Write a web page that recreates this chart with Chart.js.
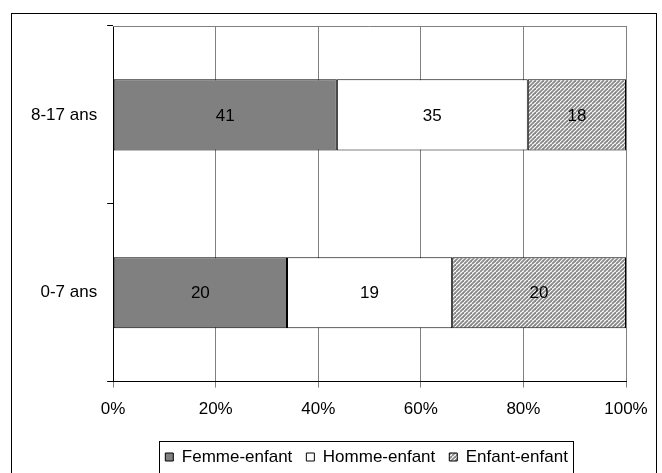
<!DOCTYPE html>
<html>
<head>
<meta charset="utf-8">
<script src="https://cdn.jsdelivr.net/npm/chart.js@4"></script>
<style>
  html, body { margin: 0; padding: 0; background: #fff; overflow: hidden; }
  #wrap { position: relative; width: 662px; height: 473px; }
  #frame { position: absolute; left: 11px; top: 13px; width: 646px; height: 480px; border: 1px solid #000; box-sizing: border-box; }
  canvas { position: absolute; left: 0; top: 0; }
</style>
</head>
<body>
<div id="wrap">
  <div id="frame"></div>
  <canvas id="grafica" width="662" height="473"></canvas>
</div>
<script>
const categories = ['8-17 ans', '0-7 ans'];
const femmeEnfant = [41, 20];
const hommeEnfant = [35, 19];
const enfantEnfant = [18, 20];
const xTicks = [0, 20, 40, 60, 80, 100];

const series = [
  { label: 'Femme-enfant', counts: femmeEnfant },
  { label: 'Homme-enfant', counts: hommeEnfant },
  { label: 'Enfant-enfant', counts: enfantEnfant }
];

// totaux par catégorie pour passer en %
const totals = categories.map((c, i) => series.reduce((s, d) => s + d.counts[i], 0));

function hatch() {
  const c = document.createElement('canvas');
  c.width = 8; c.height = 8;
  const g = c.getContext('2d');
  g.fillStyle = '#ffffff';
  g.fillRect(0, 0, 8, 8);
  g.strokeStyle = '#888888';
  g.lineWidth = 1.8;
  for (let k = -8; k <= 16; k += 4) {
    g.beginPath();
    g.moveTo(k, 8);
    g.lineTo(k + 8, 0);
    g.stroke();
  }
  return g.createPattern(c, 'repeat');
}

const fills = ['#808080', '#ffffff', hatch()];
const FONT = "'Liberation Sans', Arial, sans-serif";
const FS = 17;

const valueLabels = {
  id: 'valueLabels',
  afterDatasetsDraw(chart) {
    const ctx = chart.ctx;
    ctx.save();
    ctx.font = FS + 'px ' + FONT;
    ctx.fillStyle = '#000';
    ctx.textAlign = 'center';
    ctx.textBaseline = 'middle';
    chart.data.datasets.forEach((ds, di) => {
      chart.getDatasetMeta(di).data.forEach((bar, i) => {
        const p = bar.getProps(['x', 'y', 'base'], true);
        ctx.fillText(String(ds.counts[i]), (p.x + p.base) / 2, p.y + 1);
      });
    });
    ctx.restore();
  }
};

// bord gris en haut de la zone de tracé
const topEdge = {
  id: 'topEdge',
  beforeDatasetsDraw(chart) {
    const a = chart.chartArea;
    const ctx = chart.ctx;
    ctx.save();
    ctx.strokeStyle = '#808080';
    ctx.lineWidth = 1;
    ctx.beginPath();
    ctx.moveTo(a.left, Math.round(a.top) + 0.5);
    ctx.lineTo(a.right, Math.round(a.top) + 0.5);
    ctx.stroke();
    ctx.restore();
  }
};

// légende centrée sous la zone de tracé, avec un cadre
const legendBox = {
  id: 'legendBox',
  afterUpdate(chart) {
    const lg = chart.legend;
    const boxes = lg.legendHitBoxes;
    if (!boxes || !boxes.length) return;
    const a = chart.chartArea;
    const l = Math.min(...boxes.map(b => b.left));
    const r = Math.max(...boxes.map(b => b.left + b.width));
    const dx = (a.left + a.right) / 2 - 3 - (l + r) / 2;
    const dy = 457 - (boxes[0].top + boxes[0].height / 2);
    lg.left += dx; lg.right += dx;
    lg.top += dy; lg.bottom += dy;
    boxes.forEach(b => { b.left += dx; b.top += dy; });
  },
  afterDraw(chart) {
    const boxes = chart.legend.legendHitBoxes;
    if (!boxes || !boxes.length) return;
    const left = Math.min(...boxes.map(b => b.left)) - 6;
    const right = Math.max(...boxes.map(b => b.left + b.width)) + 5;
    const top = Math.min(...boxes.map(b => b.top + b.height / 2)) - 16;
    const ctx = chart.ctx;
    ctx.save();
    ctx.strokeStyle = '#000';
    ctx.lineWidth = 1;
    ctx.strokeRect(Math.round(left) + 0.5, Math.round(top) + 0.5, Math.round(right - left), 60);
    ctx.restore();
  }
};

const ctx = document.getElementById('grafica').getContext('2d');
new Chart(ctx, {
  type: 'bar',
  data: {
    labels: categories,
    datasets: series.map((s, k) => ({
      label: s.label,
      counts: s.counts,
      data: s.counts.map((v, i) => v / totals[i] * 100),
      backgroundColor: fills[k],
      borderColor: '#000',
      borderWidth: 1,
      borderSkipped: false,
      categoryPercentage: 0.4,
      barPercentage: 1
    }))
  },
  options: {
    indexAxis: 'y',
    responsive: false,
    animation: false,
    devicePixelRatio: 1,
    layout: { padding: { left: 21, right: 36, top: 26, bottom: 0 } },
    plugins: {
      tooltip: { enabled: false },
      legend: {
        position: 'bottom',
        labels: {
          color: '#000',
          font: { family: FONT, size: FS },
          boxWidth: 8,
          boxHeight: 8,
          padding: 14
        }
      }
    },
    scales: {
      x: {
        stacked: true,
        min: 0,
        max: 100,
        afterBuildTicks: (axis) => { axis.ticks = xTicks.map(v => ({ value: v })); },
        ticks: {
          color: '#000',
          font: { family: FONT, size: FS },
          padding: 12,
          maxRotation: 0,
          callback: (v) => v + '%'
        },
        grid: { color: '#808080', tickLength: 6 },
        border: { color: '#000' }
      },
      y: {
        stacked: true,
        ticks: { color: '#000', font: { family: FONT, size: FS }, padding: 10 },
        grid: { offset: true, drawOnChartArea: false, tickColor: '#000', tickLength: 6 },
        border: { color: '#000' }
      }
    }
  },
  plugins: [valueLabels, topEdge, legendBox]
});
</script>
</body>
</html>
